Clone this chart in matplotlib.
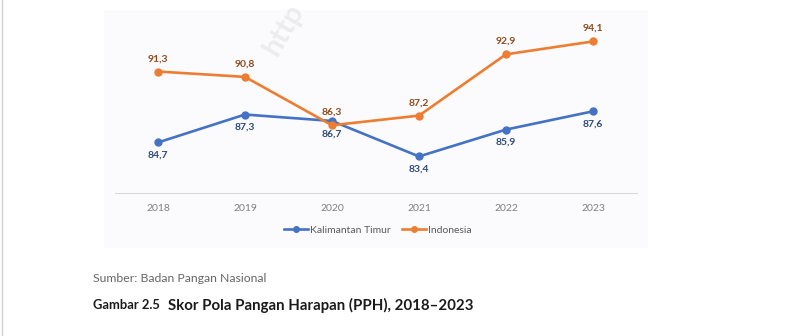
import matplotlib
matplotlib.use("Agg")
import matplotlib.pyplot as plt
from matplotlib.patches import Rectangle
from matplotlib.lines import Line2D

years = ["2018", "2019", "2020", "2021", "2022", "2023"]
kaltim = [84.7, 87.3, 86.7, 83.4, 85.9, 87.6]
indonesia = [91.3, 90.8, 86.3, 87.2, 92.9, 94.1]
series_names = ["Kalimantan Timur", "Indonesia"]

BLUE = "#4472c4"
ORANGE = "#ed7d31"
BLUE_TXT = "#2e4a78"
ORANGE_TXT = "#8e4a1c"

plt.rcParams["font.family"] = ["Lato", "DejaVu Sans"]

fig = plt.figure(figsize=(8.0, 3.36), dpi=100)
fig.patch.set_facecolor("white")

# faint chart panel behind the plot
fig.add_artist(Rectangle((104 / 800, 88 / 336), 544 / 800, 238 / 336,
                         transform=fig.transFigure, facecolor="#fbfbfd",
                         edgecolor="none", zorder=-5))
# page edge on the left
fig.add_artist(Line2D([0.002, 0.002], [0, 1], transform=fig.transFigure,
                      color="#d0d0d0", linewidth=1.0, zorder=-4))

# watermark
fig.text(0.355, 1 - 30 / 336, "http", rotation=60, fontsize=21, fontweight="bold",
         color="#ececec", ha="center", va="center", zorder=-3)

ax = fig.add_axes([114.5 / 800, 143 / 336, 522 / 800, 172 / 336], zorder=2)
ax.set_facecolor("none")
x = list(range(len(years)))

ax.plot(x, kaltim, color=BLUE, linewidth=1.9, marker="o", markersize=5,
        solid_capstyle="round", zorder=3)
ax.plot(x, indonesia, color=ORANGE, linewidth=1.9, marker="o", markersize=5,
        solid_capstyle="round", zorder=3)

for xi, v in zip(x, indonesia):
    ax.annotate(f"{v:.1f}".replace(".", ","), (xi, v), xytext=(0, 6),
                textcoords="offset points", ha="center", va="bottom",
                fontsize=7.5, fontweight="bold", color=ORANGE_TXT)
for xi, v in zip(x, kaltim):
    ax.annotate(f"{v:.1f}".replace(".", ","), (xi, v), xytext=(0, -6),
                textcoords="offset points", ha="center", va="top",
                fontsize=7.5, fontweight="bold", color=BLUE_TXT)

ax.set_xlim(-0.5, len(years) - 0.5)
ax.set_ylim(80, 96)
ax.set_xticks(x)
ax.set_xticklabels(years, fontsize=7.5, color="#7f7f7f")
ax.set_yticks([])
ax.tick_params(axis="x", length=0, pad=8)
for side in ["top", "right", "left"]:
    ax.spines[side].set_visible(False)
ax.spines["bottom"].set_color("#d9d9d9")
ax.spines["bottom"].set_linewidth(0.8)

handles = [
    Line2D([], [], color=BLUE, linewidth=1.9, marker="o", markersize=4),
    Line2D([], [], color=ORANGE, linewidth=1.9, marker="o", markersize=4),
]
fig.legend(handles, series_names, loc="center", bbox_to_anchor=(378 / 800, 1 - 230 / 336),
           ncol=2, frameon=False, fontsize=7.5, handlelength=2.3, handletextpad=0.2,
           columnspacing=1.1, labelcolor="#595959")

fig.text(93 / 800, 1 - 278 / 336, "Sumber: Badan Pangan Nasional", fontsize=8.8,
         color="#666666", ha="left", va="center")
fig.text(93 / 800, 1 - 305 / 336, "Gambar 2.5", fontsize=9.3, fontweight="bold",
         color="#1a1a1a", ha="left", va="center")
fig.text(168 / 800, 1 - 305 / 336, "Skor Pola Pangan Harapan (PPH), 2018\u20132023",
         fontsize=10.8, fontweight="bold", color="#1a1a1a", ha="left", va="center")

fig.savefig("out.png", dpi=100)
